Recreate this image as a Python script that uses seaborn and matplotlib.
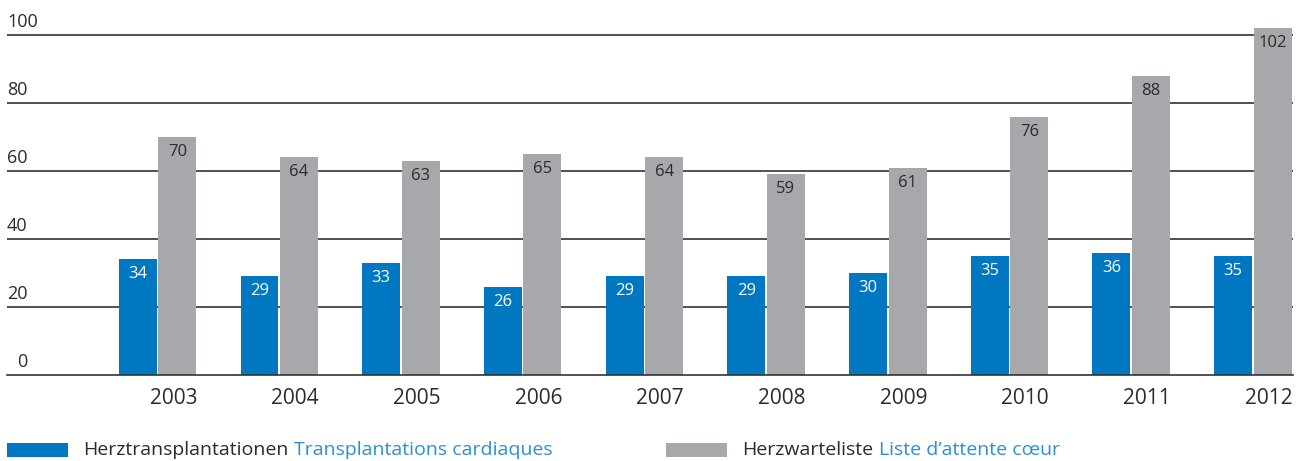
import numpy as np
import pandas as pd
import matplotlib
matplotlib.use("Agg")
import matplotlib.pyplot as plt
import seaborn as sns
from matplotlib.patches import Rectangle

# ----------------------------
# DATA
# ----------------------------

years = ["2003", "2004", "2005", "2006", "2007", "2008", "2009", "2010", "2011", "2012"]
transplants = [34, 29, 33, 26, 29, 29, 30, 35, 36, 35]
waiting_list = [70, 64, 63, 65, 64, 59, 61, 76, 88, 102]
y_ticks = [0, 20, 40, 60, 80, 100]

series_names = ["Herztransplantationen", "Herzwarteliste"]
series_fr = ["Transplantations cardiaques", "Liste d\u2019attente c\u0153ur"]

BLUE = "#0077c1"
GREY = "#a7a8ab"
TEXT_BLUE = "#2b8fd6"
DARK = "#2b2b2b"

df = pd.DataFrame({
    "year": years * 2,
    "value": transplants + waiting_list,
    "series": [series_names[0]] * len(years) + [series_names[1]] * len(years),
})

# ----------------------------
# FIGURE
# ----------------------------

sns.set_theme(style="white")
plt.rcParams["font.family"] = ["Open Sans", "DejaVu Sans"]

W, H = 1304, 461
fig = plt.figure(figsize=(W / 100, H / 100), dpi=100)

# axes placed in pixel terms: left 7, right 1293, bottom 375, top 28
ax = fig.add_axes([7 / W, (H - 375) / H, (1293 - 7) / W, (375 - 28.2) / H])

sns.barplot(
    data=df, x="year", y="value", hue="series",
    order=years, hue_order=series_names,
    palette=[BLUE, GREY], width=0.65, gap=0.04,
    saturation=1, legend=False, ax=ax, zorder=3, linewidth=0,
)

ax.set_xlim(-1.237, 9.329)
ax.set_ylim(0, 102)

# gridlines
for v in y_ticks[1:]:
    ax.axhline(v, color="#333333", lw=1.2, zorder=1)

for s in ["top", "right", "left"]:
    ax.spines[s].set_visible(False)
ax.spines["bottom"].set_color("#333333")
ax.spines["bottom"].set_linewidth(1.2)
ax.spines["bottom"].set_zorder(4)

ax.set_xlabel("")
ax.set_ylabel("")
ax.set_yticks([])

# year labels right-aligned to the grey bar edge
ax.set_xticks(np.arange(len(years)) + 0.325)
ax.set_xticklabels(years, ha="right", fontsize=15, color=DARK)
ax.tick_params(axis="x", length=0, pad=9)

# y labels sit above each line on the left
for v in y_ticks:
    dx = 10 if v == 0 else 0
    ax.annotate(str(v), xy=(0, v), xycoords=("axes fraction", "data"),
                xytext=(dx * 0.72, 3), textcoords="offset points",
                ha="left", va="bottom", fontsize=13, color=DARK)

# value labels inside the bar tops
label_colors = ["white", DARK]
for cont, col in zip(ax.containers, label_colors):
    ax.bar_label(cont, padding=-16.5, fontsize=12, color=col)

# ----------------------------
# LEGEND
# ----------------------------

def add_legend_item(x_rect, x_rect_end, x_text, name_de, name_fr, color):
    fig.add_artist(Rectangle((x_rect / W, (H - 457) / H), (x_rect_end - x_rect) / W, 14 / H,
                             transform=fig.transFigure, color=color, lw=0))
    t1 = fig.text(x_text / W, 1 - 450 / H, name_de, fontsize=14, color=DARK, va="center")
    fig.canvas.draw()
    bb = t1.get_window_extent()
    fig.text((bb.x1 + 6) / W, 1 - 450 / H, name_fr, fontsize=14, color=TEXT_BLUE, va="center")

add_legend_item(7, 68, 83, series_names[0], series_fr[0], BLUE)
add_legend_item(666, 727, 742, series_names[1], series_fr[1], GREY)

fig.savefig("out.png", dpi=100)
